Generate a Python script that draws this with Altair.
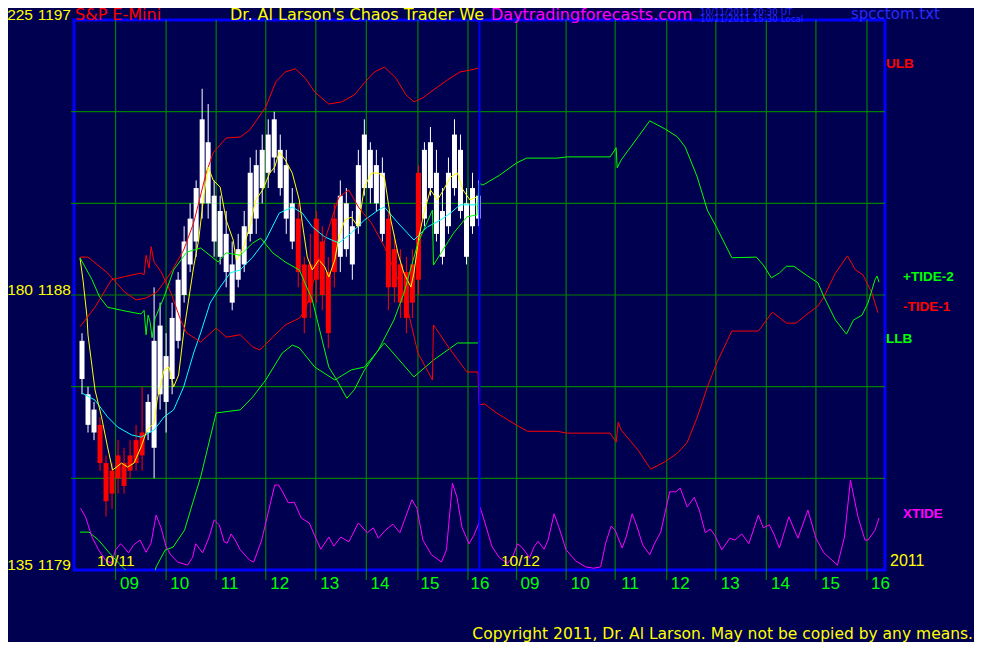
import altair as alt
import pandas as pd

# ---------------- data ----------------
# time axis: hours since 08:00 of 10/11 (0..8 = 10/11 session, 8..16 = 10/12 session)
hour_ticks = list(range(1, 17))
grid_t = [0.73, 1.74, 2.74, 3.73, 4.73, 5.74, 6.77, 7.77,
          8.74, 9.73, 10.71, 11.74, 12.72, 13.73, 14.72, 15.74]
grid_prices = [1182, 1185, 1188, 1191, 1194]
price_ticks = [1179, 1188, 1197]
tide_ticks = [135, 180, 225]
now_t = [8.0]

bar_n = 67
bar_t = [round(0.06 + 0.12 * i, 2) for i in range(bar_n)]
bar_open = [1185.25, 1183.75, 1183.5, 1183.75, 1182.5, 1182.25, 1182.75, 1182.5, 1182.75, 1183.25,
            1183.5, 1183.5, 1183.0, 1184.75, 1184.5, 1185.25, 1186.5, 1188.0, 1189.0, 1189.75,
            1191.0, 1191.0, 1189.75, 1189.25, 1188.75, 1187.75, 1188.5, 1189.0, 1190.0, 1190.5,
            1191.5, 1192.0, 1192.5, 1191.5, 1190.5, 1189.75, 1190.5, 1189.0, 1189.0, 1190.5,
            1189.75, 1188.75, 1190.5, 1189.25, 1189.5, 1189.0, 1190.25, 1191.5, 1191.5, 1191.0,
            1190.0, 1190.5, 1189.5, 1189.0, 1188.75, 1189.0, 1192.0, 1190.5, 1191.5, 1190.0,
            1189.25, 1190.25, 1191.5, 1190.75, 1189.25, 1190.25, 1190.5]
bar_high = [1186.75, 1185.0, 1184.5, 1184.0, 1182.75, 1182.5, 1183.25, 1183.0, 1183.25, 1183.75,
            1185.0, 1184.75, 1188.25, 1187.75, 1186.75, 1187.75, 1188.75, 1190.25, 1191.0, 1191.75,
            1194.75, 1194.25, 1191.75, 1191.25, 1190.75, 1189.75, 1190.0, 1190.75, 1192.5, 1192.75,
            1193.25, 1193.75, 1194.0, 1193.25, 1192.75, 1191.5, 1191.0, 1189.25, 1190.0, 1190.75,
            1190.25, 1189.25, 1191.0, 1191.75, 1191.5, 1190.75, 1192.75, 1193.75, 1193.0, 1192.75,
            1192.5, 1190.75, 1190.0, 1189.5, 1189.25, 1189.5, 1192.25, 1193.0, 1193.5, 1192.75,
            1191.5, 1192.5, 1193.75, 1193.25, 1191.5, 1192.0, 1191.75]
bar_low = [1184.75, 1183.5, 1183.25, 1182.25, 1180.75, 1181.0, 1181.5, 1181.5, 1182.0, 1182.25,
           1182.25, 1183.25, 1182.0, 1184.25, 1183.5, 1184.75, 1186.25, 1187.75, 1188.75, 1189.25,
           1190.5, 1190.5, 1189.25, 1189.0, 1188.25, 1187.5, 1188.25, 1188.75, 1189.75, 1190.0,
           1191.0, 1191.5, 1192.0, 1191.25, 1190.0, 1189.5, 1188.25, 1186.75, 1187.25, 1187.75,
           1187.5, 1186.25, 1188.25, 1188.75, 1189.25, 1188.5, 1190.0, 1191.25, 1191.0, 1190.75,
           1189.75, 1187.5, 1187.75, 1187.25, 1186.75, 1187.25, 1188.0, 1190.25, 1191.25, 1189.75,
           1189.0, 1190.0, 1191.25, 1190.5, 1189.0, 1190.0, 1190.25]
bar_close = [1186.5, 1184.75, 1184.25, 1182.5, 1181.25, 1181.5, 1182.0, 1181.75, 1182.25, 1182.5,
             1182.75, 1184.5, 1186.5, 1187.0, 1186.0, 1187.25, 1188.5, 1189.75, 1190.5, 1191.5,
             1193.75, 1193.0, 1191.25, 1190.75, 1190.0, 1189.0, 1189.5, 1190.25, 1192.0, 1192.25,
             1192.75, 1193.25, 1193.75, 1192.75, 1192.25, 1191.0, 1188.75, 1187.25, 1187.75, 1188.5,
             1188.0, 1186.75, 1188.75, 1191.25, 1191.0, 1190.25, 1192.25, 1193.25, 1192.75, 1192.25,
             1192.0, 1188.25, 1188.25, 1187.75, 1187.25, 1187.75, 1188.5, 1192.75, 1193.0, 1192.0,
             1190.75, 1192.0, 1193.25, 1192.75, 1191.0, 1191.5, 1191.25]

# fast average (yellow)
yel_t = [0.02, 0.08, 0.16, 0.18, 0.32, 0.45, 0.57, 0.67, 0.85, 0.97, 1.10, 1.24, 1.36, 1.50, 1.56,
         1.70, 1.80, 1.89, 1.99, 2.09, 2.15, 2.29, 2.39, 2.49, 2.58, 2.68, 2.82, 2.94, 3.08, 3.14,
         3.27, 3.41, 3.53, 3.67, 3.81, 3.91, 4.00, 4.12, 4.26, 4.40, 4.46, 4.56, 4.66, 4.79, 4.91,
         4.99, 5.11, 5.19, 5.31, 5.44, 5.58, 5.70, 5.84, 5.98, 6.10, 6.23, 6.37, 6.49, 6.63, 6.69,
         6.79, 6.89, 7.02, 7.16, 7.28, 7.42, 7.56, 7.67, 7.81, 7.95]
yel_p = [1189.21, 1188.49, 1187.28, 1186.69, 1184.89, 1184.01, 1183.03, 1182.27, 1182.50, 1182.37,
         1182.50, 1183.03, 1183.58, 1183.81, 1184.56, 1185.55, 1185.64, 1184.99, 1185.38, 1186.76,
         1187.41, 1188.92, 1189.80, 1191.21, 1192.19, 1191.76, 1191.53, 1190.45, 1189.80, 1189.15,
         1189.47, 1190.23, 1191.11, 1191.44, 1191.99, 1192.19, 1192.68, 1192.42, 1191.99, 1191.11,
         1190.36, 1189.24, 1188.82, 1189.15, 1188.92, 1188.59, 1189.15, 1189.90, 1190.45, 1190.55,
         1190.23, 1191.53, 1191.99, 1191.99, 1191.86, 1190.45, 1189.37, 1188.72, 1188.26, 1188.72,
         1189.90, 1190.68, 1191.44, 1191.11, 1191.44, 1191.86, 1191.99, 1191.44, 1191.11, 1191.21]

# slow average (cyan)
cy_t = [0.06, 0.32, 0.57, 0.77, 1.05, 1.24, 1.50, 1.70, 1.89, 2.09, 2.29, 2.43, 2.62, 2.82, 3.02,
        3.22, 3.47, 3.73, 4.00, 4.26, 4.46, 4.66, 4.91, 5.19, 5.44, 5.70, 5.98, 6.10, 6.37, 6.69,
        6.96, 7.22, 7.42, 7.61, 7.95]
cy_p = [1184.79, 1184.56, 1184.01, 1183.68, 1183.42, 1183.35, 1183.58, 1184.01, 1184.24, 1184.99,
        1186.10, 1186.76, 1187.74, 1188.26, 1188.72, 1188.82, 1189.24, 1189.80, 1190.68, 1190.88,
        1190.68, 1190.23, 1189.90, 1189.70, 1190.03, 1190.45, 1190.78, 1190.88, 1190.36, 1189.80,
        1190.23, 1190.45, 1190.68, 1190.95, 1190.95]

# upper band ULB (red)
ulb_t = [0.02, 0.18, 0.57, 0.91, 1.14, 1.34, 1.56, 1.83, 2.09, 2.29, 2.54, 2.68, 2.94, 3.22, 3.41,
         3.73, 3.93, 4.12, 4.32, 4.52, 4.71, 4.99, 5.25, 5.50, 5.70, 5.90, 6.10, 6.33, 6.53, 6.69,
         6.87, 7.02, 7.36, 7.61, 7.81, 8.0]
ulb_p = [1189.24, 1189.24, 1188.72, 1188.10, 1187.84, 1187.90, 1188.10, 1188.72, 1189.47, 1190.36,
         1191.99, 1192.65, 1193.14, 1193.17, 1193.40, 1194.15, 1194.97, 1195.30, 1195.40, 1195.10,
         1194.64, 1194.25, 1194.32, 1194.55, 1194.94, 1195.30, 1195.46, 1195.10, 1194.55, 1194.32,
         1194.45, 1194.64, 1195.04, 1195.30, 1195.36, 1195.43]

# lower band LLB (green)
llb_t = [0.02, 0.20, 0.39, 0.59, 0.79, 0.93, 1.10, 1.30, 1.50, 1.54, 1.72, 1.88, 2.11, 2.27, 2.43,
         2.74, 3.22, 3.47, 3.73, 4.06, 4.26, 4.40, 4.71, 5.11, 5.44, 5.70, 6.10, 6.69, 7.08, 7.56, 7.97]
llb_p = [1180.24, 1180.24, 1179.98, 1179.59, 1179.23, 1179.0, 1178.74, 1178.67, 1178.84, 1179.10,
         1179.65, 1179.75, 1180.31, 1181.19, 1182.04, 1184.14, 1184.24, 1184.66, 1185.22, 1186.10,
         1186.36, 1186.27, 1185.64, 1185.22, 1185.55, 1185.64, 1186.43, 1185.32, 1185.87, 1186.43, 1186.43]

# +TIDE-2 (green), tide scale
tp_t = [0.02, 0.26, 0.41, 0.57, 0.85, 1.10, 1.24, 1.30, 1.34, 1.38, 1.42, 1.46, 1.52, 1.70, 1.89,
        2.15, 2.43, 2.78, 2.94, 3.22, 3.47, 3.63, 3.87, 4.12, 4.40, 4.66, 4.99, 5.15, 5.35, 5.50,
        5.70, 5.98, 6.29, 6.49, 6.77, 7.06, 7.08, 7.48, 7.75, 7.95, 7.99, 8.07, 8.40, 8.74, 8.94,
        9.55, 9.75, 10.61, 10.73, 10.75, 10.83, 11.17, 11.40, 11.70, 11.95, 12.11, 12.35, 12.55, 12.74,
        13.04, 13.53, 13.67, 13.83, 13.99, 14.13, 14.28, 14.52, 14.76, 14.88, 15.11, 15.33, 15.47,
        15.64, 15.76, 15.90, 15.94, 15.98]
tp_v = [186.1, 182.5, 179.7, 178.0, 177.5, 177.1, 176.9, 177.5, 173.5, 176.7, 175.6, 173.0, 176.2,
        179.7, 184.1, 187.0, 187.7, 185.4, 186.9, 186.5, 188.5, 189.3, 186.9, 185.4, 184.1, 179.2,
        168.2, 166.1, 163.1, 164.5, 167.7, 171.0, 175.9, 180.3, 188.5, 193.9, 184.9, 190.1, 192.8,
        193.1, 198.3, 198.0, 199.6, 201.6, 202.4, 202.4, 202.6, 202.6, 204.1, 200.8, 202.1, 205.9,
        208.5, 207.2, 205.9, 204.2, 199.3, 193.9, 191.0, 186.1, 186.2, 184.9, 182.8, 183.6, 184.7,
        184.7, 183.3, 182.0, 179.7, 175.9, 173.6, 175.9, 176.7, 178.7, 182.5, 183.1, 182.1]

# -TIDE-1 (red), tide scale
tm_t = [0.02, 0.32, 0.65, 0.91, 1.24, 1.30, 1.34, 1.40, 1.44, 1.50, 1.64, 1.83, 2.03, 2.15, 2.43,
        2.74, 2.94, 3.22, 3.47, 3.61, 3.87, 4.12, 4.40, 4.52, 4.75, 4.91, 5.19, 5.39, 5.58, 5.84,
        6.10, 6.49, 6.77, 7.06, 7.08, 7.42, 7.75, 7.97, 7.99, 8.10, 8.34, 8.74, 8.96, 9.55, 9.75,
        10.61, 10.73, 10.77, 10.83, 11.17, 11.42, 11.70, 11.95, 12.15, 12.35, 12.55, 12.74, 13.04,
        13.57, 13.69, 13.85, 14.13, 14.32, 14.52, 14.76, 14.88, 15.11, 15.35, 15.51, 15.66, 15.84, 15.96]
tm_v = [174.8, 178.0, 182.5, 183.0, 183.6, 183.3, 186.5, 184.4, 187.9, 185.4, 183.8, 180.5, 175.9,
        173.8, 172.3, 174.6, 173.1, 173.5, 171.5, 171.0, 173.1, 175.1, 176.2, 177.5, 184.1, 189.0,
        196.0, 197.2, 194.4, 191.8, 187.9, 180.3, 170.5, 166.1, 175.1, 171.0, 167.4, 167.4, 162.0,
        162.2, 160.7, 158.7, 157.7, 157.7, 157.4, 157.4, 155.9, 159.2, 157.9, 154.6, 151.5, 152.7,
        154.1, 155.9, 160.0, 164.9, 168.9, 174.1, 174.1, 175.4, 177.2, 175.4, 175.4, 176.7, 178.2,
        179.7, 183.6, 186.4, 184.1, 183.3, 180.3, 177.1]

# XTIDE (magenta), tide scale
xt_t = [0.03, 0.13, 0.26, 0.39, 0.53, 0.65, 0.73, 0.83, 0.89, 0.99, 1.09, 1.22, 1.34, 1.44, 1.54,
        1.64, 1.74, 1.83, 1.97, 2.17, 2.27, 2.33, 2.47, 2.60, 2.70, 2.80, 2.90, 2.96, 3.04, 3.12,
        3.22, 3.41, 3.49, 3.65, 3.79, 3.91, 3.99, 4.08, 4.18, 4.30, 4.44, 4.60, 4.73, 4.83, 4.99,
        5.09, 5.23, 5.39, 5.58, 5.76, 5.88, 5.98, 6.12, 6.27, 6.41, 6.65, 6.75, 6.87, 7.04, 7.24,
        7.34, 7.46, 7.55, 7.65, 7.79, 7.89, 7.99,
        8.01, 8.11, 8.25, 8.40, 8.56, 8.66, 8.76, 8.86, 9.00, 9.09, 9.17, 9.29, 9.37, 9.49, 9.59,
        9.73, 9.92, 10.12, 10.28, 10.42, 10.52, 10.63, 10.71, 10.85, 10.93, 11.05, 11.15, 11.26,
        11.40, 11.50, 11.62, 11.80, 11.92, 12.01, 12.15, 12.29, 12.39, 12.51, 12.61, 12.70, 12.84,
        13.00, 13.10, 13.24, 13.38, 13.57, 13.67, 13.79, 13.89, 13.99, 14.18, 14.36, 14.56, 14.72,
        14.88, 15.15, 15.29, 15.41, 15.56, 15.70, 15.76, 15.90, 15.98]
xt_v = [145.1, 143.7, 140.4, 138.3, 136.6, 136.1, 138.3, 139.3, 138.8, 137.8, 139.1, 139.9, 137.9,
        139.4, 144.0, 141.9, 138.8, 137.5, 136.3, 135.8, 137.1, 139.3, 137.8, 140.4, 143.2, 142.4,
        139.6, 139.4, 140.9, 139.9, 138.3, 136.6, 136.3, 139.9, 144.8, 148.9, 148.9, 147.6, 146.0,
        146.1, 143.5, 142.7, 140.2, 138.4, 140.4, 138.9, 140.4, 139.6, 142.7, 141.1, 141.9, 140.2,
        141.5, 142.5, 141.1, 146.5, 145.1, 139.9, 137.5, 136.3, 138.3, 149.2, 146.9, 142.0, 139.3,
        140.7, 142.7,
        145.3, 142.7, 138.8, 137.0, 136.1, 137.1, 139.3, 138.6, 137.0, 138.8, 139.7, 138.4, 139.9,
        144.2, 141.9, 138.3, 136.5, 135.5, 135.3, 135.5, 139.4, 142.2, 141.5, 138.6, 140.4, 144.2,
        142.0, 139.1, 137.5, 139.4, 141.2, 147.8, 147.8, 148.4, 145.3, 146.9, 144.8, 141.1, 141.7,
        140.7, 138.3, 140.2, 139.9, 140.9, 139.3, 144.0, 141.9, 142.4, 140.7, 138.6, 143.7, 140.2,
        144.8, 140.2, 137.8, 135.8, 140.4, 149.7, 143.7, 139.9, 139.9, 141.5, 143.5]

# ---------------- styles ----------------
BG = "#000050"
GRID = "#008000"
LIME = "#00ff00"
RED = "#ff0000"
YEL = "#ffff00"
MAG = "#ff00ff"
BLUE = "#0000ff"
TXTBLUE = "#2a2aff"
FONT = "Liberation Sans, Arial, Helvetica, sans-serif"
FONT_W = "DejaVu Sans, Verdana, sans-serif"

W, H = 811, 550

xs = alt.Scale(domain=[0, 16], nice=False, zero=False)
ps = alt.Scale(domain=[1179, 1197], nice=False, zero=False)
ts = alt.Scale(domain=[135, 225], nice=False, zero=False)

xaxis = alt.Axis(
    values=hour_ticks,
    labelExpr="datum.value == 1 || datum.value == 9 ? '09' : toString(datum.value <= 8 ? datum.value + 8 : datum.value)",
    labelColor=LIME, labelFont=FONT, labelFontSize=17, labelBaseline="alphabetic",
    labelPadding=18, ticks=False, tickSize=0, domain=False, grid=False, title=None,
    labelFlush=False, labelOverlap=False,
)
X = alt.X("t:Q", scale=xs, axis=xaxis, title=None)


def frame(t, vals, name):
    return pd.DataFrame({"t": t, name: vals, "i": list(range(len(t)))})


def line(df, field, scale, color, width=1.0):
    return alt.Chart(df).mark_line(color=color, strokeWidth=width, clip=True).encode(
        x=X, y=alt.Y(f"{field}:Q", scale=scale, axis=None), order="i:Q")


def label(txt, x, y, color, size, font=FONT, align="left", weight="normal"):
    return alt.Chart(alt.Data(values=[{"s": txt}])).mark_text(
        align=align, baseline="alphabetic", color=color, fontSize=size,
        font=font, fontWeight=weight).encode(x=alt.value(x), y=alt.value(y), text="s:N")


# ---------------- price group ----------------
cdf = pd.DataFrame({"t": bar_t, "o": bar_open, "h": bar_high, "l": bar_low, "c": bar_close})
cdf["dir"] = ["up" if c >= o else "down" for o, c in zip(cdf["o"], cdf["c"])]
ccol = alt.Color("dir:N", scale=alt.Scale(domain=["up", "down"], range=["#ffffff", RED]), legend=None)

vgrid = alt.Chart(pd.DataFrame({"t": grid_t})).mark_rule(color=GRID, strokeWidth=1.2).encode(
    x=X, y=alt.value(0), y2=alt.value(H + 10))
hgrid = alt.Chart(pd.DataFrame({"p": grid_prices})).mark_rule(color=GRID, strokeWidth=1.2).encode(
    y=alt.Y("p:Q", scale=ps, axis=None), x=alt.value(-3), x2=alt.value(W))

wicks = alt.Chart(cdf).mark_rule(strokeWidth=1, clip=True).encode(
    x=X, y=alt.Y("l:Q", scale=ps, axis=None), y2="h:Q", color=ccol)
bodies = alt.Chart(cdf).mark_bar(size=5, clip=True).encode(
    x=X, y=alt.Y("o:Q", scale=ps, axis=None), y2="c:Q", color=ccol)

price_lbl = alt.Chart(pd.DataFrame({"p": price_ticks, "s": [str(v) for v in price_ticks]})).mark_text(
    align="right", baseline="alphabetic", color=YEL, fontSize=15.5, font=FONT).encode(
    y=alt.Y("p:Q", scale=ps, axis=None), x=alt.value(-3), text="s:N")

price_group = alt.layer(
    hgrid, vgrid, wicks, bodies,
    line(frame(ulb_t, ulb_p, "p"), "p", ps, RED),
    line(frame(llb_t, llb_p, "p"), "p", ps, LIME),
    line(frame(cy_t, cy_p, "p"), "p", ps, "#00ffff"),
    line(frame(yel_t, yel_p, "p"), "p", ps, YEL),
    price_lbl,
)

# ---------------- tide group ----------------
tide_lbl = alt.Chart(pd.DataFrame({"v": tide_ticks, "s": [str(v) for v in tide_ticks]})).mark_text(
    align="right", baseline="alphabetic", color=YEL, fontSize=15.5, font=FONT).encode(
    y=alt.Y("v:Q", scale=ts, axis=None), x=alt.value(-41), text="s:N")

tide_group = alt.layer(
    line(frame(xt_t, xt_v, "v"), "v", ts, MAG),
    line(frame(tm_t, tm_v, "v"), "v", ts, RED),
    line(frame(tp_t, tp_v, "v"), "v", ts, LIME),
    tide_lbl,
)

now_line = alt.Chart(pd.DataFrame({"t": now_t})).mark_rule(color=BLUE, strokeWidth=2).encode(
    x=X, y=alt.value(0), y2=alt.value(H))

texts = [
    label("S&P E-Mini", 1, -0.5, RED, 16, FONT_W),
    label("Dr. Al Larson's Chaos Trader We", 156, -0.5, YEL, 16, FONT_W),
    label("Daytradingforecasts.com", 417, -0.5, MAG, 16, FONT_W),
    label("10/11/2011 20:30 UT", 626, -5.3, TXTBLUE, 8.7, FONT_W),
    label("10/11/2011 15:30 Local", 626, 2, TXTBLUE, 8.7, FONT_W),
    label("spcctom.txt", 777, -1.5, TXTBLUE, 15, FONT_W),
    label("ULB", 812, 47.7, RED, 13.5, weight="bold"),
    label("+TIDE-2", 829, 260.7, LIME, 13.5, weight="bold"),
    label("-TIDE-1", 829, 290.7, RED, 13.5, weight="bold"),
    label("LLB", 812, 322.7, LIME, 13.5, weight="bold"),
    label("XTIDE", 829, 498.3, MAG, 13.5, weight="bold"),
    label("10/11", 23, 546, YEL, 15.5),
    label("10/12", 427, 546, YEL, 15.5),
    label("2011", 816, 546, YEL, 16),
    label("Copyright 2011, Dr. Al Larson. May not be copied by any means.", 899, 619, YEL, 15.5,
          FONT_W, align="right"),
]

chart = alt.layer(price_group, tide_group, now_line, *texts).resolve_scale(
    y="independent"
).properties(
    width=W, height=H,
    padding={"left": 66, "top": 12, "right": 89, "bottom": 72},
    autosize="none",
    background=BG,
).configure_view(stroke=BLUE, strokeWidth=3, fill=BG)

chart.save("out.html", embed_options={"renderer": "svg", "actions": False})
